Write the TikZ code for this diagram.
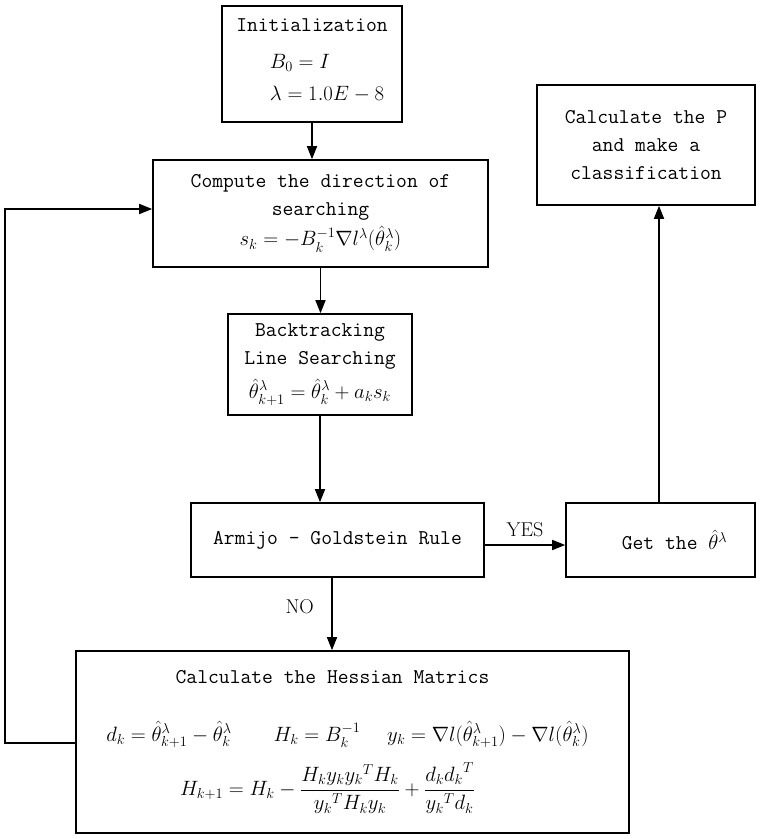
\documentclass[tikz,border=0pt]{standalone}
\usepackage{amsmath}
\usetikzlibrary{arrows.meta}
\newcommand\boxfont{\fontsize{21}{28}\selectfont\ttfamily}
\tikzset{
  box/.style={draw, line width=1.6pt, align=center, inner sep=0pt, font=\boxfont},
  flow/.style={line width=1.6pt, -{Triangle[length=13pt,width=10pt]}},
  tag/.style={font=\fontsize{20}{24}\selectfont}
}
\begin{document}
\begin{tikzpicture}[x=1pt, y=-1pt]
      \useasboundingbox (0, 0) rectangle (760, 839);
      \node [box, minimum width=180, minimum height=116] (init) at (312, 64)
            {Initialization\\[16pt]
             \hspace*{30pt}$\begin{array}{l} B_0 = I\\[4pt] \lambda = 1.0E-8 \end{array}$};
      \node [box, minimum width=335, minimum height=107] (comp) at (320.5, 213.5)
            {Compute the direction of\\ searching\\[2pt]
             $s_k = -B_k^{-1}\nabla l^{\lambda}(\hat{\theta}_k^{\lambda})$};
      \node [box, minimum width=184, minimum height=101] (back) at (320, 364.5)
            {Backtracking\\ Line Searching\\[6pt]
             $\hat{\theta}_{k+1}^{\lambda} = \hat{\theta}_k^{\lambda} + a_k s_k$};
      \node [box, minimum width=293, minimum height=74] (armijo) at (337.5, 540)
            {Armijo - Goldstein Rule};
      \node [box, minimum width=189, minimum height=74] (get) at (660.5, 540)
            {\hspace*{28pt}Get the $\hat{\theta}^{\lambda}$};
      \node [box, minimum width=218, minimum height=120] (calcp) at (646, 145)
            {Calculate the P\\ and make a\\ classification};
      \node [box, minimum width=553, minimum height=182] (hess) at (352.5, 742)
            {\hspace*{-40pt}Calculate the Hessian Matrics\\[30pt]
             \hspace*{-10pt}$d_k = \hat{\theta}_{k+1}^{\lambda} - \hat{\theta}_k^{\lambda}
              \qquad H_k = B_k^{-1} \quad\;
              y_k = \nabla l(\hat{\theta}_{k+1}^{\lambda}) - \nabla l(\hat{\theta}_k^{\lambda})$\\[14pt]
             \hspace*{-50pt}$H_{k+1} = H_k - \dfrac{H_k y_k {y_k}^T H_k}{{y_k}^T H_k y_k}
              + \dfrac{d_k {d_k}^T}{{y_k}^T d_k}$};
      \coordinate (down) at (332, 578);
      \coordinate (yes) at (0, 545);
      \coordinate (up) at (659, 0);
      \coordinate (loopb) at (5, 743);
      \coordinate (loopt) at (5, 209);
      \draw [flow] (init.south) -- (init.south |- comp.north);
      \draw [flow] (comp.south) -- (comp.south |- back.north);
      \draw [flow] (back.south) -- (back.south |- armijo.north);
      \draw [flow] (down) -- (down |- hess.north) node [tag, pos=.4, left=14pt] {NO};
      \draw [flow] (armijo.east |- yes) -- (get.west |- yes) node [tag, midway, above=4pt] {YES};
      \draw [flow] (get.north -| up) -- (calcp.south -| up);
      \draw [flow] (hess.west |- loopb) -- (loopb) -- (loopt) -- (comp.west |- loopt);
\end{tikzpicture}
\end{document}
